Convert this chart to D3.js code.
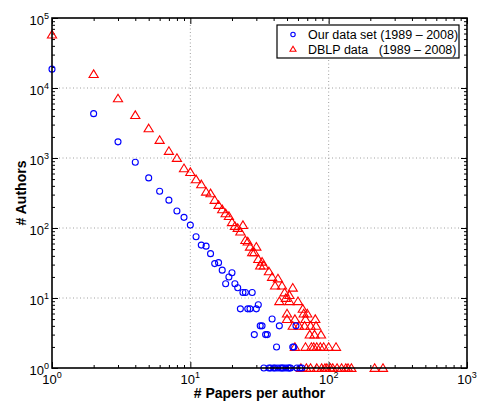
<!DOCTYPE html>
<html>
<head>
<meta charset="utf-8">
<script src="https://cdn.jsdelivr.net/npm/d3@7"></script>
<style>
  body { margin: 0; background: #fff; }
  text { font-family: "Liberation Sans", Arial, Helvetica, sans-serif; }
</style>
</head>
<body>
<div id="chart"></div>
<script>
// data: # authors vs # papers per author
var ourX = [1, 2, 3, 4, 5, 6, 7, 8, 9, 10, 11, 12, 13, 14, 15, 16, 17, 18, 19, 20,
  21, 22, 23, 24, 25, 26, 27, 28, 29, 30, 31, 32, 33, 35, 36, 39, 42, 44, 55, 56, 58,
  34, 37, 38, 40, 41, 43, 45, 46, 47, 49, 51, 52, 53, 59, 62, 64];
var ourY = [18600, 4300, 1700, 870, 520, 335, 250, 175, 142, 110, 75, 57, 55, 43, 31, 32, 25, 16, 20, 23,
  16, 14, 7, 12, 12, 7, 7, 12, 3, 7, 8, 4, 4, 3, 3, 5, 2, 4, 2, 2, 4,
  1, 1, 1, 1, 1, 1, 1, 1, 1, 1, 1, 1, 1, 1, 1, 1];

var dblpX = [1, 2, 3, 4, 5, 6, 7, 8, 9, 10, 11, 12, 13, 14, 15, 16, 17, 18, 19, 20,
  21, 22, 23, 24, 25, 26, 27, 28, 29, 30, 31, 32, 33, 34, 37, 39, 41, 43, 46, 48,
  52, 55, 49, 44, 52, 60, 65, 50, 66, 70, 50, 57, 68, 80,
  55, 61, 67, 74, 81, 73, 79, 88,
  57, 68, 75, 78, 82, 87, 92, 100, 113,
  63, 69, 74, 82, 89, 94, 97, 103, 107, 115, 124, 133, 138, 146, 215, 247];
var dblpY = [58000, 15800, 7100, 4100, 2650, 1810, 1260, 1000, 713, 630, 496, 421, 330, 313, 251, 213, 185, 162, 148, 121,
  107, 100, 89, 110, 67, 64, 54, 45, 45, 54, 36, 29, 33, 29, 24, 20, 15, 19, 15, 12,
  11, 14, 10, 9, 9, 9, 7, 6, 6, 6, 5, 5, 5, 5,
  4, 4, 4, 4, 4, 3, 3, 3,
  2, 2, 2, 2, 2, 2, 2, 2, 2,
  1, 1, 1, 1, 1, 1, 1, 1, 1, 1, 1, 1, 1, 1, 1, 1];

var legendLabels = ["Our data set (1989 \u2013 2008)", "DBLP data   (1989 \u2013 2008)"];
var xDecades = [1, 10, 100, 1000];
var yDecades = [1, 10, 100, 1000, 10000, 100000];

var svgWidth = 477;
var svgHeight = 403;
var margin = { top: 18, right: 10, bottom: 35, left: 52 };
var width = 415;
var height = 350;

var svg = d3.select("#chart")
  .append("svg")
  .attr("width", svgWidth)
  .attr("height", svgHeight);

var chartGroup = svg.append("g")
  .attr("transform", `translate(${margin.left}, ${margin.top})`);

var xLogScale = d3.scaleLog().domain([1, 1000]).range([0, width]);
var yLogScale = d3.scaleLog().domain([1, 100000]).range([height, 0]);

// minor tick values (2..9 of each decade)
function minorTicks(lo, hi) {
  var out = [];
  for (var p = lo; p < hi; p *= 10) {
    for (var k = 2; k <= 9; k++) out.push(p * k);
  }
  return out;
}
var xMinor = minorTicks(1, 1000);
var yMinor = minorTicks(1, 100000);

// grid (dotted, major only)
chartGroup.append("g").selectAll("line")
  .data(xDecades.slice(1, -1))
  .join("line")
  .attr("x1", d => xLogScale(d)).attr("x2", d => xLogScale(d))
  .attr("y1", 0).attr("y2", height)
  .attr("stroke", "#a0a0a0").attr("stroke-dasharray", "1,2.5");

chartGroup.append("g").selectAll("line")
  .data(yDecades.slice(1, -1))
  .join("line")
  .attr("y1", d => yLogScale(d)).attr("y2", d => yLogScale(d))
  .attr("x1", 0).attr("x2", width)
  .attr("stroke", "#a0a0a0").attr("stroke-dasharray", "1,2.5");

// axes with inward ticks on all four sides
function drawAxis(axis, tr) {
  var g = chartGroup.append("g").attr("transform", tr).call(axis);
  g.select(".domain").remove();
  g.selectAll("text").remove();
  g.selectAll("line").attr("stroke", "#000").attr("stroke-width", 1);
  return g;
}
drawAxis(d3.axisBottom(xLogScale).tickValues(xDecades).tickSize(-6), `translate(0, ${height})`);
drawAxis(d3.axisBottom(xLogScale).tickValues(xMinor).tickSize(-3), `translate(0, ${height})`);
drawAxis(d3.axisTop(xLogScale).tickValues(xDecades).tickSize(-6), "translate(0, 0)");
drawAxis(d3.axisTop(xLogScale).tickValues(xMinor).tickSize(-3), "translate(0, 0)");
drawAxis(d3.axisLeft(yLogScale).tickValues(yDecades).tickSize(-6), "translate(0, 0)");
drawAxis(d3.axisLeft(yLogScale).tickValues(yMinor).tickSize(-3), "translate(0, 0)");
drawAxis(d3.axisRight(yLogScale).tickValues(yDecades).tickSize(-6), `translate(${width}, 0)`);
drawAxis(d3.axisRight(yLogScale).tickValues(yMinor).tickSize(-3), `translate(${width}, 0)`);

// tick labels 10^n
chartGroup.append("g").selectAll("text")
  .data(xDecades)
  .join("text")
  .attr("x", d => xLogScale(d))
  .attr("y", height + 16)
  .attr("text-anchor", "middle")
  .style("font-size", "13px")
  .each(function(d) {
    var t = d3.select(this);
    t.append("tspan").text("10");
    t.append("tspan").attr("dy", -6).style("font-size", "9px").text(Math.round(Math.log10(d)));
  });

chartGroup.append("g").selectAll("text")
  .data(yDecades)
  .join("text")
  .attr("x", -3)
  .attr("y", d => yLogScale(d) + 7)
  .attr("text-anchor", "end")
  .style("font-size", "13px")
  .each(function(d) {
    var t = d3.select(this);
    t.append("tspan").text("10");
    t.append("tspan").attr("dy", -6).style("font-size", "9px").text(Math.round(Math.log10(d)));
  });

// scatter: our data set (circles)
var ourData = ourX.map((x, i) => ({ x: x, y: ourY[i] }));
var dblpData = dblpX.map((x, i) => ({ x: x, y: dblpY[i] }));

var tri = "M0,-4.2L4.6,3.4L-4.6,3.4Z";

chartGroup.append("g").selectAll("path")
  .data(dblpData)
  .join("path")
  .attr("d", tri)
  .attr("transform", d => `translate(${xLogScale(d.x)}, ${yLogScale(d.y)})`)
  .attr("fill", "none")
  .attr("stroke", "#ff0000")
  .attr("stroke-width", 1.1);

chartGroup.append("g").selectAll("circle")
  .data(ourData)
  .join("circle")
  .attr("cx", d => xLogScale(d.x))
  .attr("cy", d => yLogScale(d.y))
  .attr("r", 3)
  .attr("fill", "none")
  .attr("stroke", "#0000ff")
  .attr("stroke-width", 1.1);

// frame
chartGroup.append("rect")
  .attr("width", width).attr("height", height)
  .attr("fill", "none").attr("stroke", "#000").attr("stroke-width", 1.6);

// legend
var legend = svg.append("g").attr("transform", "translate(277, 25)");
legend.append("rect")
  .attr("width", 182).attr("height", 33)
  .attr("fill", "#fff").attr("stroke", "#000").attr("stroke-width", 1.2);
legend.append("circle")
  .attr("cx", 16).attr("cy", 9.5).attr("r", 2.2)
  .attr("fill", "none").attr("stroke", "#0000ff").attr("stroke-width", 1.1);
legend.append("path")
  .attr("d", "M0,-2.8L3,2.2L-3,2.2Z")
  .attr("transform", "translate(16, 24)")
  .attr("fill", "none").attr("stroke", "#ff0000").attr("stroke-width", 1.1);
legend.selectAll("text.lab")
  .data(legendLabels)
  .join("text")
  .attr("class", "lab")
  .attr("x", 31)
  .attr("y", (d, i) => 14 + i * 15)
  .style("font-size", "12.5px")
  .style("white-space", "pre")
  .attr("xml:space", "preserve")
  .text(d => d);

// axis titles
svg.append("text")
  .attr("x", margin.left + width / 2)
  .attr("y", 398)
  .attr("text-anchor", "middle")
  .style("font-size", "14px")
  .style("font-weight", "bold")
  .text("# Papers per author");

svg.append("text")
  .attr("transform", `translate(26, ${margin.top + height / 2}) rotate(-90)`)
  .attr("text-anchor", "middle")
  .style("font-size", "14px")
  .style("font-weight", "bold")
  .text("# Authors");
</script>
</body>
</html>
